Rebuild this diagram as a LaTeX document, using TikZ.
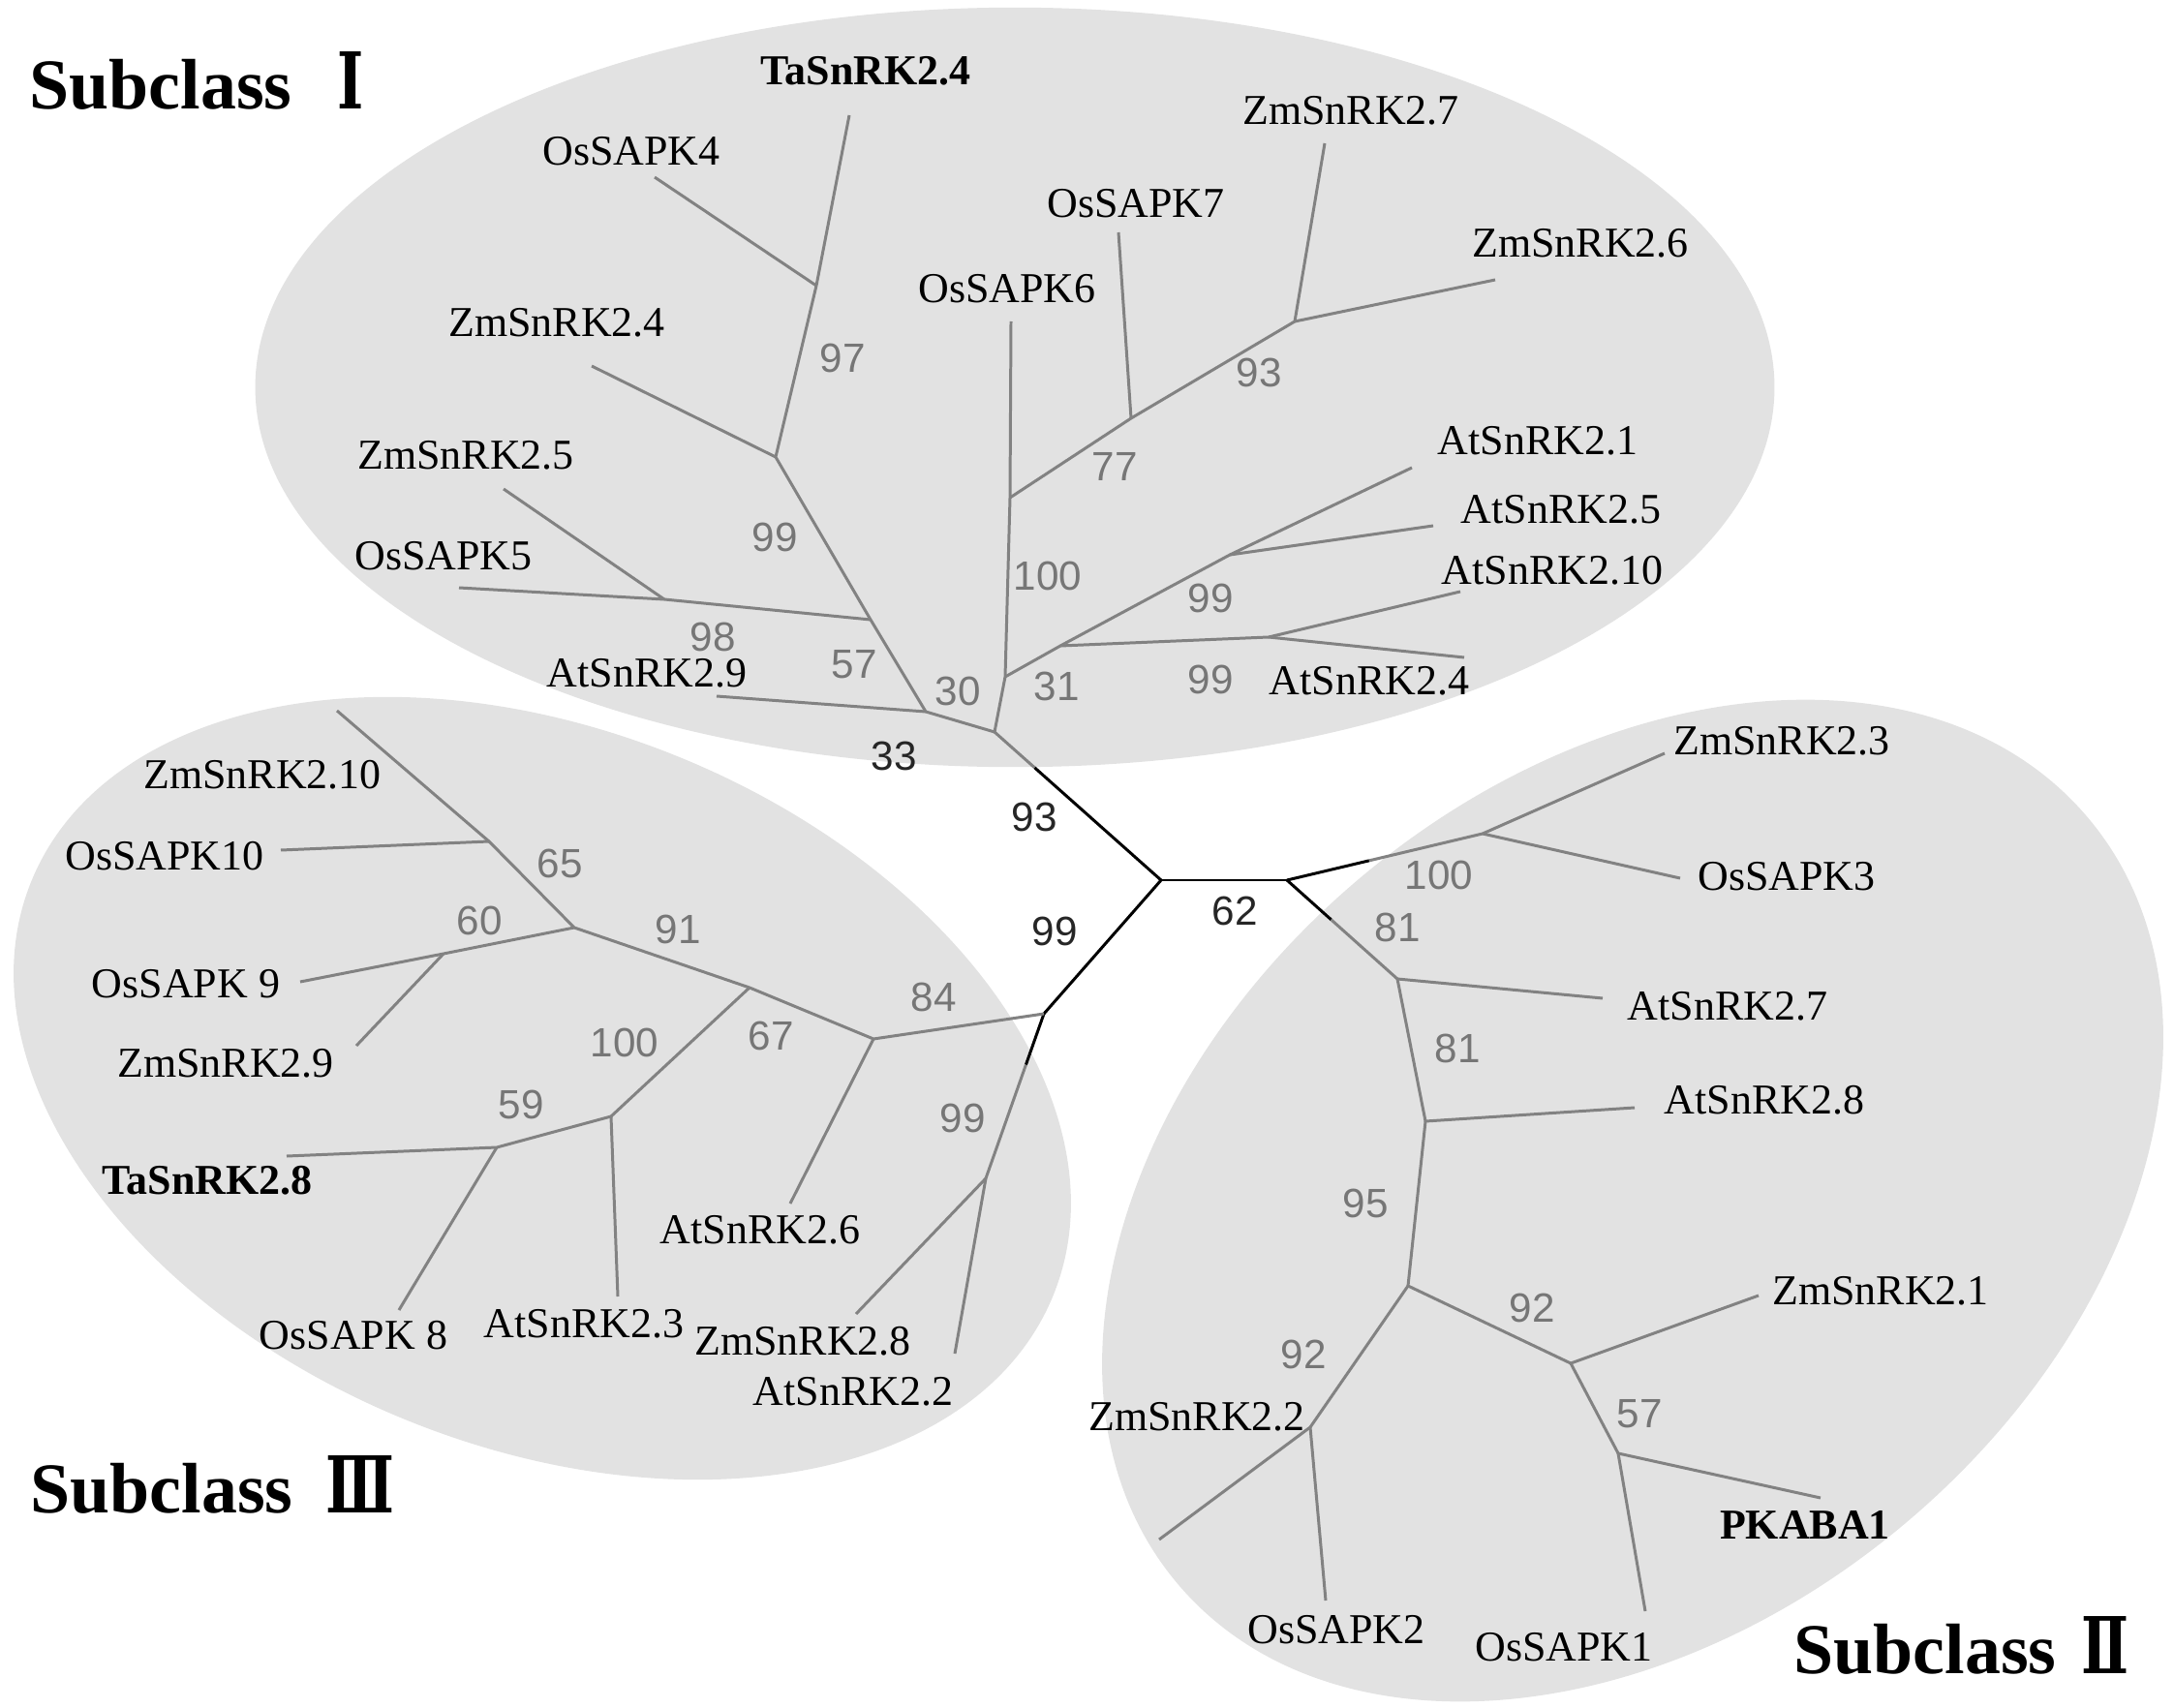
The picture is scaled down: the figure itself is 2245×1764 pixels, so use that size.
\documentclass[tikz,border=0pt]{standalone}
\usepackage{fontspec}
\setmainfont{Liberation Serif}
\newfontfamily\numfont{Liberation Sans}
\newfontfamily\romfont[FakeStretch=0.72]{DejaVu Serif}
\usetikzlibrary{calc}
\definecolor{cladefill}{HTML}{E2E2E2}
\definecolor{branchgray}{HTML}{828282}
\definecolor{bootgray}{HTML}{767676}

\begin{document}
\begin{tikzpicture}[x=0.01cm, y=-0.01cm, line join=round,
    branch/.style={draw=branchgray, line width=0.85pt},
    stem/.style={draw=black, line width=0.85pt},
    gene/.style={inner sep=0pt, font=\fontsize{12.5}{15}\selectfont},
    keygene/.style={inner sep=0pt, font=\bfseries\fontsize{12.5}{15}\selectfont},
    boot/.style={inner sep=0pt, text=bootgray, font=\numfont\fontsize{12}{14}\selectfont},
    rootboot/.style={boot, text=black!85},
    subclass/.style={inner sep=0pt, anchor=base west, font=\bfseries\fontsize{21}{25}\selectfont}]

    \useasboundingbox (0, 0) rectangle (2245, 1764);

    \fill[cladefill] (1048, 400) ellipse [x radius=7.84cm, y radius=3.92cm];
    \fill[cladefill, rotate around={-22:(560, 1124)}] (560, 1124) ellipse [x radius=5.69cm, y radius=3.70cm];
    \fill[cladefill, rotate around={40:(1686, 1240)}] (1686, 1240) ellipse [x radius=6.14cm, y radius=4.36cm];

    \coordinate (d0) at (1199, 909);
    \coordinate (d1) at (1329, 909);

    \coordinate (a1) at (843, 295);
    \coordinate (a2) at (801, 472);
    \coordinate (a3) at (899, 640);
    \coordinate (a4) at (686, 619);
    \coordinate (a5) at (956, 735);
    \coordinate (a6) at (1027, 756);
    \coordinate (a7) at (1043, 514);
    \coordinate (a8) at (1038, 699);
    \coordinate (b1) at (1337, 332);
    \coordinate (b2) at (1168, 432);
    \coordinate (b3) at (1270, 573);
    \coordinate (b4) at (1310, 658);
    \coordinate (b5) at (1095, 667);

    \coordinate (ta24) at (877, 119);
    \coordinate (os4) at (676, 183);
    \coordinate (zm24) at (611, 378);
    \coordinate (zm25) at (520, 505);
    \coordinate (os5) at (474, 607);
    \coordinate (at29) at (740, 719);
    \coordinate (os6) at (1044, 332);
    \coordinate (os7) at (1155, 240);
    \coordinate (zm27) at (1368, 148);
    \coordinate (zm26) at (1544, 289);
    \coordinate (at21) at (1458, 483);
    \coordinate (at25) at (1480, 543);
    \coordinate (at210) at (1508, 611);
    \coordinate (at24) at (1512, 679);

    \coordinate (c1) at (505, 869);
    \coordinate (c2) at (593, 958);
    \coordinate (c3) at (458, 985);
    \coordinate (c4) at (774, 1020);
    \coordinate (c5) at (902, 1073);
    \coordinate (c6) at (1078, 1047);
    \coordinate (c7) at (1018, 1217);
    \coordinate (c8) at (631, 1153);
    \coordinate (c9) at (513, 1185);

    \coordinate (zm210) at (348, 734);
    \coordinate (os10) at (290, 878);
    \coordinate (os9) at (310, 1014);
    \coordinate (zm29) at (368, 1080);
    \coordinate (ta28) at (296, 1194);
    \coordinate (os8) at (412, 1353);
    \coordinate (at23) at (638, 1339);
    \coordinate (at26) at (816, 1243);
    \coordinate (zm28) at (884, 1357);
    \coordinate (at22) at (986, 1398);

    \coordinate (e1) at (1531, 861);
    \coordinate (e2) at (1443, 1011);
    \coordinate (e3) at (1472, 1158);
    \coordinate (e4) at (1454, 1328);
    \coordinate (e5) at (1622, 1408);
    \coordinate (e6) at (1671, 1501);
    \coordinate (e7) at (1353, 1474);

    \coordinate (zm23) at (1719, 778);
    \coordinate (os3) at (1735, 907);
    \coordinate (at27) at (1655, 1031);
    \coordinate (at28) at (1688, 1144);
    \coordinate (zm21) at (1816, 1338);
    \coordinate (pk1) at (1880, 1547);
    \coordinate (os1) at (1699, 1664);
    \coordinate (os2) at (1369, 1653);
    \coordinate (zm22) at (1197, 1590);

    \coordinate (x1) at ($(d0)!0.76!(a6)$);
    \coordinate (x2) at ($(d1)!0.42!(e1)$);
    \coordinate (x3) at ($(d1)!0.40!(e2)$);
    \coordinate (x4) at ($(c6)!0.31!(c7)$);

    \draw[stem] (d0) -- (d1);
    \draw[stem] (d0) -- (c6);
    \draw[stem] (d0) -- (x1);
    \draw[stem] (d1) -- (x2);
    \draw[stem] (d1) -- (x3);
    \draw[stem] (c6) -- (x4);
    \draw[branch] (x1) -- (a6);
    \draw[branch] (x2) -- (e1);
    \draw[branch] (x3) -- (e2);
    \draw[branch] (x4) -- (c7);

    \draw[branch] (a6) -- (a5) -- (a3) -- (a2) -- (a1) -- (ta24);
    \draw[branch] (a1) -- (os4);
    \draw[branch] (a2) -- (zm24);
    \draw[branch] (a3) -- (a4) -- (os5);
    \draw[branch] (a4) -- (zm25);
    \draw[branch] (a5) -- (at29);
    \draw[branch] (a6) -- (a8) -- (a7) -- (os6);
    \draw[branch] (a7) -- (b2) -- (b1) -- (zm27);
    \draw[branch] (b1) -- (zm26);
    \draw[branch] (b2) -- (os7);
    \draw[branch] (a8) -- (b5) -- (b3) -- (at21);
    \draw[branch] (b3) -- (at25);
    \draw[branch] (b5) -- (b4) -- (at210);
    \draw[branch] (b4) -- (at24);

    \draw[branch] (c6) -- (c5) -- (c4) -- (c2) -- (c1) -- (zm210);
    \draw[branch] (c1) -- (os10);
    \draw[branch] (c2) -- (c3) -- (os9);
    \draw[branch] (c3) -- (zm29);
    \draw[branch] (c4) -- (c8) -- (c9) -- (ta28);
    \draw[branch] (c9) -- (os8);
    \draw[branch] (c8) -- (at23);
    \draw[branch] (c5) -- (at26);
    \draw[branch] (c7) -- (zm28);
    \draw[branch] (c7) -- (at22);

    \draw[branch] (e1) -- (zm23);
    \draw[branch] (e1) -- (os3);
    \draw[branch] (e2) -- (at27);
    \draw[branch] (e2) -- (e3) -- (at28);
    \draw[branch] (e3) -- (e4) -- (e5) -- (zm21);
    \draw[branch] (e5) -- (e6) -- (pk1);
    \draw[branch] (e6) -- (os1);
    \draw[branch] (e4) -- (e7) -- (zm22);
    \draw[branch] (e7) -- (os2);

    \node[keygene] (n-ta24) at (894, 73) {TaSnRK2.4};
    \node[gene] (n-os4) at (652, 156) {OsSAPK4};
    \node[gene] (n-zm24) at (575, 333) {ZmSnRK2.4};
    \node[gene] (n-zm25) at (481, 470) {ZmSnRK2.5};
    \node[gene] (n-os5) at (458, 574) {OsSAPK5};
    \node[gene] (n-at29) at (668, 695) {AtSnRK2.9};
    \node[gene] (n-os6) at (1040, 298) {OsSAPK6};
    \node[gene] (n-os7) at (1173, 210) {OsSAPK7};
    \node[gene] (n-zm27) at (1395, 114) {ZmSnRK2.7};
    \node[gene] (n-zm26) at (1632, 251) {ZmSnRK2.6};
    \node[gene] (n-at21) at (1588, 455) {AtSnRK2.1};
    \node[gene] (n-at25) at (1612, 526) {AtSnRK2.5};
    \node[gene] (n-at210) at (1603, 589) {AtSnRK2.10};
    \node[gene] (n-at24) at (1414, 703) {AtSnRK2.4};

    \node[gene] (n-zm210) at (271, 800) {ZmSnRK2.10};
    \node[gene] (n-os10) at (170, 884) {OsSAPK10};
    \node[gene] (n-os9) at (192, 1016) {OsSAPK 9};
    \node[gene] (n-zm29) at (233, 1098) {ZmSnRK2.9};
    \node[keygene] (n-ta28) at (214, 1219) {TaSnRK2.8};
    \node[gene] (n-os8) at (365, 1379) {OsSAPK 8};
    \node[gene] (n-at23) at (603, 1367) {AtSnRK2.3};
    \node[gene] (n-at26) at (785, 1270) {AtSnRK2.6};
    \node[gene] (n-zm28) at (829, 1385) {ZmSnRK2.8};
    \node[gene] (n-at22) at (881, 1437) {AtSnRK2.2};

    \node[gene] (n-zm23) at (1840, 765) {ZmSnRK2.3};
    \node[gene] (n-os3) at (1845, 905) {OsSAPK3};
    \node[gene] (n-at27) at (1784, 1039) {AtSnRK2.7};
    \node[gene] (n-at28) at (1822, 1136) {AtSnRK2.8};
    \node[gene] (n-zm21) at (1942, 1333) {ZmSnRK2.1};
    \node[keygene] (n-pk1) at (1864, 1575) {PKABA1};
    \node[gene] (n-os1) at (1615, 1701) {OsSAPK1};
    \node[gene] (n-os2) at (1380, 1683) {OsSAPK2};
    \node[gene] (n-zm22) at (1236, 1463) {ZmSnRK2.2};

    \node[boot] (bs-a1) at (870, 370) {97};
    \node[boot] (bs-a2) at (800, 555) {99};
    \node[boot] (bs-a4) at (736, 658) {98};
    \node[boot] (bs-a3) at (882, 686) {57};
    \node[boot] (bs-a5) at (989, 714) {30};
    \node[rootboot] (bs-a6) at (923, 781) {33};
    \node[boot] (bs-b1) at (1300, 385) {93};
    \node[boot] (bs-b2) at (1151, 482) {77};
    \node[boot] (bs-a7) at (1082, 595) {100};
    \node[boot] (bs-b3) at (1250, 618) {99};
    \node[boot] (bs-b5) at (1091, 709) {31};
    \node[boot] (bs-b4) at (1250, 702) {99};

    \node[rootboot] (bs-d0a) at (1068, 844) {93};
    \node[rootboot] (bs-d0c) at (1089, 962) {99};
    \node[rootboot] (bs-d1) at (1275, 941) {62};

    \node[boot] (bs-c1) at (578, 892) {65};
    \node[boot] (bs-c3) at (495, 951) {60};
    \node[boot] (bs-c2) at (700, 960) {91};
    \node[boot] (bs-c8) at (645, 1077) {100};
    \node[boot] (bs-c4) at (796, 1070) {67};
    \node[boot] (bs-c5) at (964, 1030) {84};
    \node[boot] (bs-c9) at (538, 1141) {59};
    \node[boot] (bs-c7) at (994, 1155) {99};

    \node[boot] (bs-e1) at (1486, 904) {100};
    \node[boot] (bs-e2) at (1443, 958) {81};
    \node[boot] (bs-e3) at (1505, 1083) {81};
    \node[boot] (bs-e4) at (1410, 1243) {95};
    \node[boot] (bs-e5) at (1582, 1351) {92};
    \node[boot] (bs-e7) at (1346, 1399) {92};
    \node[boot] (bs-e6) at (1693, 1460) {57};

    \node[subclass] (sub1) at (30, 113) {Subclass\hspace{0.47cm}{\romfont\fontsize{23}{25}\selectfont Ⅰ}};
    \node[subclass] (sub3) at (31, 1562) {Subclass\hspace{0.34cm}{\romfont\fontsize{23}{25}\selectfont Ⅲ}};
    \node[subclass] (sub2) at (1852, 1728) {Subclass\hspace{0.26cm}{\romfont\fontsize{23}{25}\selectfont Ⅱ}};

\end{tikzpicture}
\end{document}
